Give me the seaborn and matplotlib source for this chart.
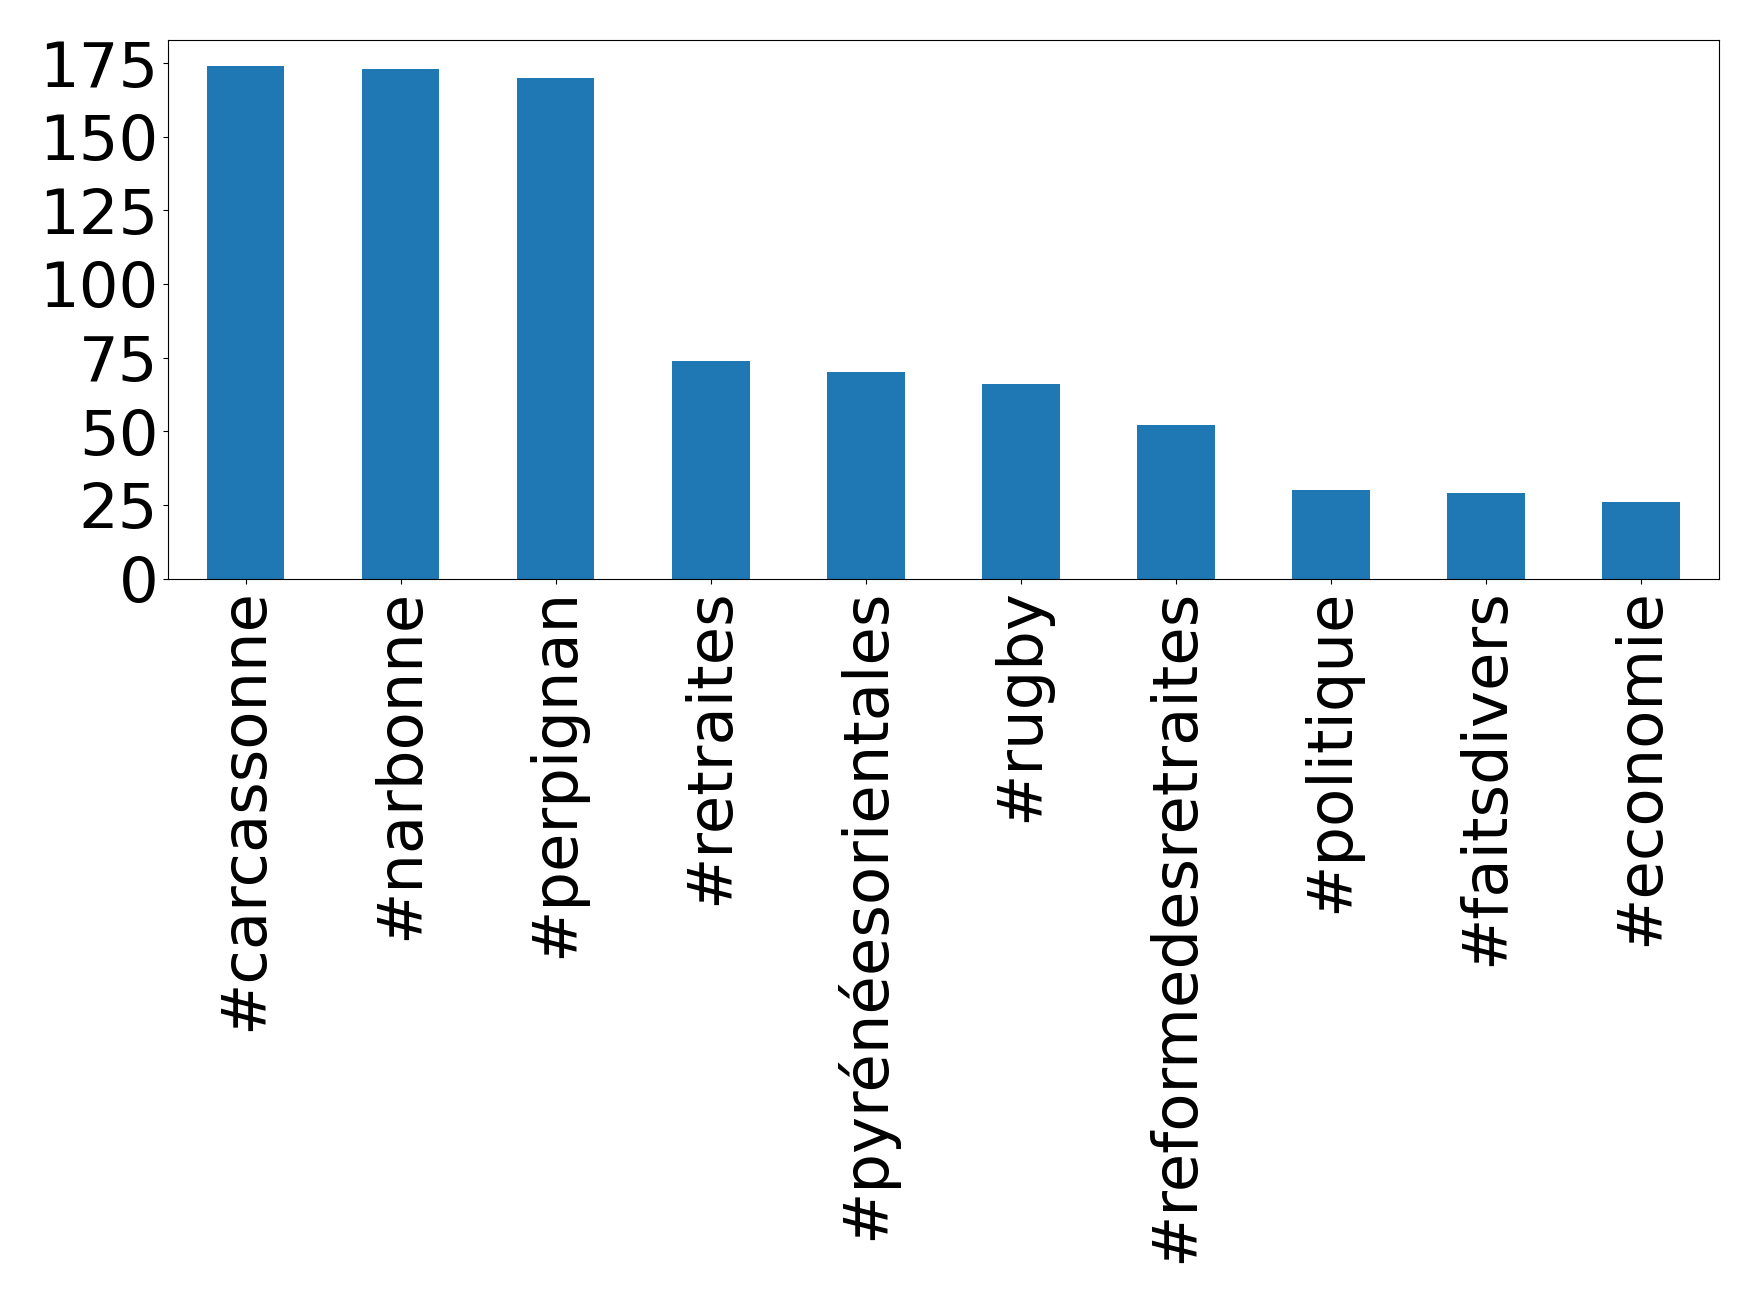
import matplotlib
matplotlib.use("Agg")
import matplotlib.pyplot as plt
from matplotlib.ticker import MultipleLocator
import seaborn as sns

# hashtag counts
hashtags = ['#carcassonne', '#narbonne', '#perpignan', '#retraites',
            '#pyrénéesorientales', '#rugby', '#reformedesretraites',
            '#politique', '#faitsdivers', '#economie']
counts = [174, 173, 170, 74, 70, 66, 52, 30, 29, 26]

fig = plt.figure(figsize=(17.58, 13.03), dpi=100)
ax = fig.add_axes([0.0956, 0.556, 0.882, 0.413])

sns.barplot(x=hashtags, y=counts, color='#1f77b4', saturation=1,
            width=0.5, ax=ax)

ax.yaxis.set_major_locator(MultipleLocator(25))
ax.tick_params(axis='both', labelsize=45)
plt.setp(ax.get_xticklabels(), rotation=90)
ax.set_xlabel('')
ax.set_ylabel('')

fig.savefig('out.png', dpi=100)
